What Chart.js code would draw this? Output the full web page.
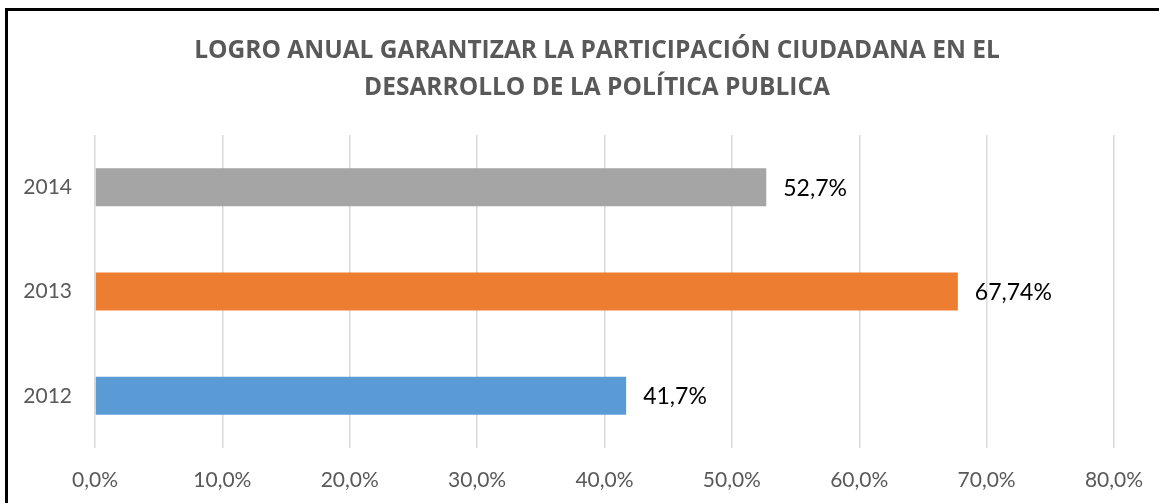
<!DOCTYPE html>
<html>
<head>
<meta charset="utf-8">
<script src="https://cdn.jsdelivr.net/npm/chart.js@4"></script>
<style>
  html, body { margin: 0; padding: 0; background: #fff; overflow: hidden; }
  #frame { position: absolute; left: 5px; top: 8px; width: 2000px; height: 1000px;
           border-left: 3px solid #000; border-top: 3px solid #000; pointer-events: none; }
  canvas { position: absolute; left: 0; top: 0; }
</style>
</head>
<body>
<canvas id="logro_canvas" width="1194" height="503"></canvas>
<div id="frame"></div>
<script>
var years = ['2012', '2013', '2014'];
var logro = [41.7, 67.74, 52.7];
var barColors = ['#5B9BD5', '#ED7D31', '#A5A5A5'];
var xTicks = [0, 10, 20, 30, 40, 50, 60, 70, 80];
var titleLines = ['LOGRO ANUAL GARANTIZAR LA PARTICIPACIÓN CIUDADANA EN EL',
                  'DESARROLLO DE LA POLÍTICA PUBLICA'];

function pct(v) {
    return String(v).replace('.', ',') + '%';
}

// value labels to the right of each bar
var barLabels = {
    id: 'barLabels',
    afterDatasetsDraw: function(chart) {
        var ctx = chart.ctx;
        var meta = chart.getDatasetMeta(0);
        ctx.save();
        ctx.font = '23px Lato';
        ctx.fillStyle = '#000';
        ctx.textAlign = 'left';
        ctx.textBaseline = 'middle';
        meta.data.forEach(function(bar, i) {
            ctx.fillText(pct(chart.data.datasets[0].data[i]), bar.x + 17, bar.y + 1);
        });
        ctx.restore();
    }
};

var chartdata = {
    labels: years,
    datasets: [{
        data: logro,
        backgroundColor: barColors,
        barPercentage: 0.364,
        categoryPercentage: 1
    }]
};

var options = {
    indexAxis: 'y',
    responsive: false,
    animation: false,
    layout: { padding: 0 },
    plugins: {
        legend: { display: false },
        tooltip: { enabled: false },
        title: {
            display: true,
            text: titleLines,
            color: '#595959',
            font: { family: 'Open Sans', size: 24.5, weight: 'bold', lineHeight: 1.51 },
            padding: { top: 33, bottom: 28 }
        }
    },
    scales: {
        x: {
            min: 0,
            max: 80,
            afterBuildTicks: function(s) {
                s.ticks = xTicks.map(function(v) { return { value: v }; });
            },
            afterFit: function(s) {
                s.height = 55;
                s.paddingLeft = 0;
                s.paddingRight = 80;
            },
            grid: { color: '#D9D9D9', lineWidth: 1.5, drawTicks: false },
            border: { display: false },
            ticks: {
                color: '#595959',
                padding: 20,
                font: { family: 'Lato', size: 21 },
                maxRotation: 0,
                callback: function(v) { return v.toFixed(1).replace('.', ',') + '%'; }
            }
        },
        y: {
            reverse: true,
            afterFit: function(s) { s.width = 95; },
            grid: { display: false, drawTicks: false },
            border: { display: false },
            ticks: {
                color: '#595959',
                padding: 23,
                font: { family: 'Lato', size: 21 }
            }
        }
    }
};

new Chart(document.getElementById('logro_canvas'), {
    type: 'bar',
    data: chartdata,
    options: options,
    plugins: [barLabels]
});
</script>
</body>
</html>
